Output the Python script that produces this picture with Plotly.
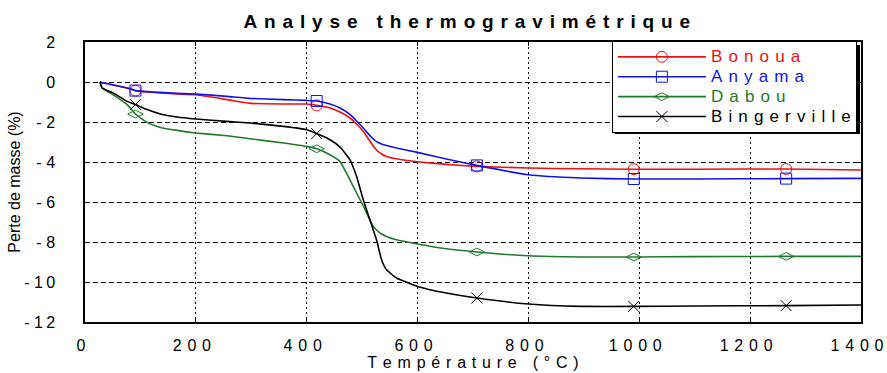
import plotly.graph_objects as go

# ---- data ----
temperature = [27, 31, 51, 76, 91, 112, 136, 166, 200, 256, 298, 358, 400, 418, 442,
               460, 478, 490, 502, 514, 520, 526, 535, 544, 562, 600, 652, 707, 800,
               893, 990, 1100, 1265, 1400]
bonoua = [0, -0.03, -0.15, -0.3, -0.43, -0.5, -0.55, -0.6, -0.64, -0.88, -1.07, -1.1,
          -1.1, -1.17, -1.3, -1.5, -1.8, -2.1, -2.47, -2.95, -3.2, -3.4, -3.6, -3.72,
          -3.84, -3.99, -4.12, -4.22, -4.3, -4.34, -4.36, -4.36, -4.35, -4.4]
anyama = [0, -0.03, -0.15, -0.3, -0.43, -0.48, -0.52, -0.57, -0.6, -0.72, -0.82, -0.88,
          -0.92, -0.95, -1.1, -1.3, -1.62, -1.95, -2.3, -2.68, -2.85, -2.98, -3.1, -3.18,
          -3.3, -3.52, -3.85, -4.17, -4.64, -4.8, -4.85, -4.85, -4.83, -4.82]
dabou = [0, -0.3, -0.64, -1.13, -1.6, -2.02, -2.27, -2.42, -2.55, -2.69, -2.84, -3.05,
         -3.22, -3.34, -3.64, -3.98, -4.89, -5.55, -6.2, -6.89, -7.22, -7.4, -7.6, -7.72,
         -7.89, -8.1, -8.34, -8.5, -8.69, -8.75, -8.75, -8.73, -8.72, -8.72]
bingerville = [0, -0.3, -0.55, -0.97, -1.13, -1.38, -1.6, -1.75, -1.85, -1.97, -2.05,
               -2.22, -2.39, -2.58, -2.89, -3.25, -3.89, -4.72, -5.89, -6.89, -7.4, -7.89,
               -8.89, -9.39, -9.8, -10.22, -10.55, -10.8, -11.1, -11.22, -11.22, -11.2,
               -11.18, -11.15]
marker_temperatures = [91, 418, 707, 990, 1265]

series_names = ["Bonoua", "Anyama", "Dabou", "Bingerville"]
series_values = [bonoua, anyama, dabou, bingerville]
series_colors = ["#ee1111", "#1111ee", "#1f7a2a", "#000000"]
series_symbols = ["circle-open", "square-open", "diamond-wide-open", "x-thin-open"]

x_ticks = [0, 200, 400, 600, 800, 1000, 1200, 1400]
y_ticks = [2, 0, -2, -4, -6, -8, -10, -12]

title_text = "Analyse thermogravimétrique"
x_title = "Température (°C)"
y_title = "Perte de masse (%)"

SEP = "\u00a0\u200a"
FONT = "Arial, Liberation Sans, sans-serif"


def spaced(s, sep=SEP):
    return sep.join("\u00a0" if c == " " else c for c in s)


def y_label(v):
    s = str(abs(v))
    body = "\u2009".join(s)
    return ("-\u2009\u200a" + body) if v < 0 else body


marker_idx = [temperature.index(t) for t in marker_temperatures]

fig = go.Figure()
for name, vals, col, sym in zip(series_names, series_values, series_colors, series_symbols):
    fig.add_trace(go.Scatter(
        x=temperature, y=vals, mode="lines+markers",
        name=f"<span style='color:{col};font-size:17px'>{spaced(name)}</span>",
        line=dict(color=col, width=1.6, shape="spline", smoothing=0.4),
        marker=dict(symbol=sym, size=11, color=col, line=dict(color=col, width=1)),
        selectedpoints=marker_idx,
        selected=dict(marker=dict(opacity=1)),
        unselected=dict(marker=dict(opacity=0)),
    ))

axis_common = dict(
    showline=True, linecolor="black", linewidth=1.5, mirror="ticks",
    ticks="inside", ticklen=4, tickcolor="black",
    showgrid=True, gridcolor="black", gridwidth=1, zeroline=False,
    automargin=False, ticklabeloverflow="allow",
)

fig.update_xaxes(
    range=[0, 1400], tickvals=x_ticks, ticktext=[spaced(str(v)) for v in x_ticks],
    griddash="2px,3px", ticklabelstandoff=8, ticklabelshift=-4,
    tickfont=dict(family=FONT, size=16, color="black"),
    title=dict(text=spaced(x_title), font=dict(family=FONT, size=16, color="black"), standoff=0),
    **axis_common,
)
fig.update_yaxes(
    range=[-12, 2], tickvals=y_ticks, ticktext=[y_label(v) for v in y_ticks],
    griddash="5px,3px", ticklabelstandoff=25,
    tickfont=dict(family=FONT, size=16, color="black"),
    title=dict(text=y_title, font=dict(family=FONT, size=16, color="black"), standoff=0),
    **axis_common,
)

fig.update_layout(
    width=887, height=373,
    margin=dict(l=85, r=26, t=42, b=51),
    paper_bgcolor="white", plot_bgcolor="white",
    title=dict(text="<b>" + spaced(title_text) + "</b>", x=0.492, xref="paper",
               y=1 - 21 / 373, yref="container", yanchor="middle", xanchor="center",
               font=dict(family=FONT, size=19, color="black")),
    legend=dict(x=0.679, y=1.004, xanchor="left", yanchor="top",
                bgcolor="white", bordercolor="black", borderwidth=1,
                font=dict(family=FONT, size=13, color="black"),
                itemwidth=88, tracegroupgap=0),
    shapes=[dict(type="rect", xref="paper", yref="paper", layer="above",
                 x0=0.6828, x1=0.9987, y0=0.6714, y1=0.989,
                 fillcolor="black", line=dict(width=0))],
    showlegend=True,
)

fig.write_html("out.html")
